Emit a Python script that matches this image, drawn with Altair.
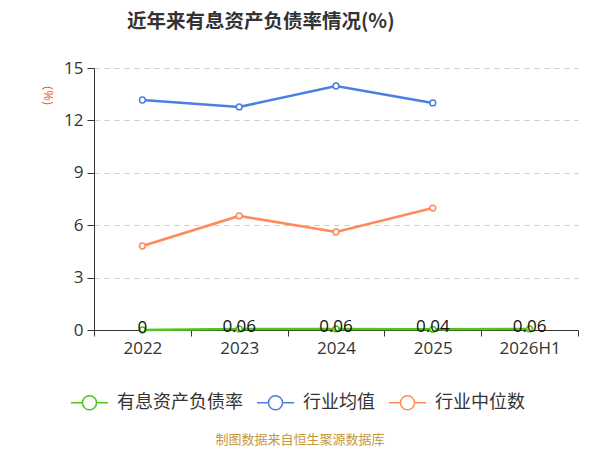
import altair as alt
import pandas as pd

years = ["2022", "2023", "2024", "2025", "2026H1"]
series_names = ["有息资产负债率", "行业均值", "行业中位数"]
debt_ratio = [0, 0.06, 0.06, 0.04, 0.06]
industry_avg = [13.17, 12.77, 13.97, 13.0, None]
industry_median = [4.81, 6.53, 5.61, 6.98, None]
y_ticks = [0, 3, 6, 9, 12, 15]
colors = ["#52c41a", "#4a7fe3", "#ff8a5b"]
title_text = "近年来有息资产负债率情况(%)"
source_text = "制图数据来自恒生聚源数据库"

rows = []
for name, vals in zip(series_names, [debt_ratio, industry_avg, industry_median]):
    for yr, v in zip(years, vals):
        if v is not None:
            rows.append({"year": yr, "series": name, "value": v})
df = pd.DataFrame(rows)

FONT = "'Open Sans', 'Noto Sans CJK SC', sans-serif"
CJK = "'Noto Sans CJK SC', 'Open Sans', sans-serif"

sym_path = ("M-1,0L-0.38,0M0.38,0L1,0M-0.38,0A0.38,0.38,0,1,1,0.38,0"
            "A0.38,0.38,0,1,1,-0.38,0Z")

x_scale = alt.Scale(type="band", domain=years, paddingInner=0, paddingOuter=0)

x_enc = alt.X("year:N", sort=years, title=None, scale=x_scale,
              axis=alt.Axis(tickBand="extent", labelAngle=0, labelFontSize=17,
                            labelColor="#333", labelFont=FONT, labelPadding=4,
                            tickSize=6, tickColor="#333", domainColor="#333",
                            grid=False))
y_enc = alt.Y("value:Q", title="(%)",
              scale=alt.Scale(domain=[0, 15], nice=False),
              axis=alt.Axis(values=y_ticks, labelFontSize=17, labelColor="#333",
                            labelFont=FONT, labelPadding=4, tickSize=7,
                            tickColor="#333", domainColor="#333",
                            grid=True, gridColor="#cccccc", gridDash=[5, 5],
                            titleAngle=90, titleColor="#f0602a", titleFontSize=13,
                            titleFontWeight="normal", titleFont=FONT,
                            titleX=-47, titleY=27, titleAlign="center",
                            titleBaseline="middle"))
color_enc = alt.Color("series:N",
                      scale=alt.Scale(domain=series_names, range=colors),
                      legend=alt.Legend(orient="none", direction="horizontal",
                                        legendX=-24, legendY=315, title=None,
                                        symbolType=sym_path, symbolSize=1369,
                                        symbolStrokeWidth=1.5,
                                        symbolFillColor="white",
                                        labelFontSize=18, labelColor="#333",
                                        labelFont=CJK, labelOffset=8,
                                        columnPadding=11, padding=0))

base = alt.Chart(df).encode(x=x_enc, y=y_enc, color=color_enc)

lines = base.mark_line(strokeWidth=2.6)
points = base.mark_point(filled=False, fill="white", fillOpacity=1, size=34,
                         strokeWidth=1.5, opacity=1)
labels = alt.Chart(df).transform_filter(
    alt.datum.series == series_names[0]
).mark_text(fontSize=17, baseline="middle", color="#111", font=FONT, dy=-2).encode(
    x=alt.X("year:N", sort=years, scale=x_scale),
    y=alt.Y("value:Q"),
    text=alt.Text("value:Q", format=".2~f"),
)
note = alt.Chart(pd.DataFrame({"t": [source_text]})).mark_text(
    fontSize=13, color="#c8963e", font=CJK, baseline="middle"
).encode(text="t:N", x=alt.value(206), y=alt.value(372))

chart = alt.layer(lines, points, labels, note).properties(
    width=484, height=262,
    title=alt.TitleParams(title_text, fontSize=19.5, fontWeight="bold", color="#333",
                          font=CJK, anchor="start", frame="group", dx=33, offset=27),
    autosize=alt.AutoSizeParams(type="none"),
    padding={"left": 86, "top": 60, "right": 14, "bottom": 120},
).configure_view(stroke=None)

chart.save("out.html", embed_options={"renderer": "svg", "actions": False})
